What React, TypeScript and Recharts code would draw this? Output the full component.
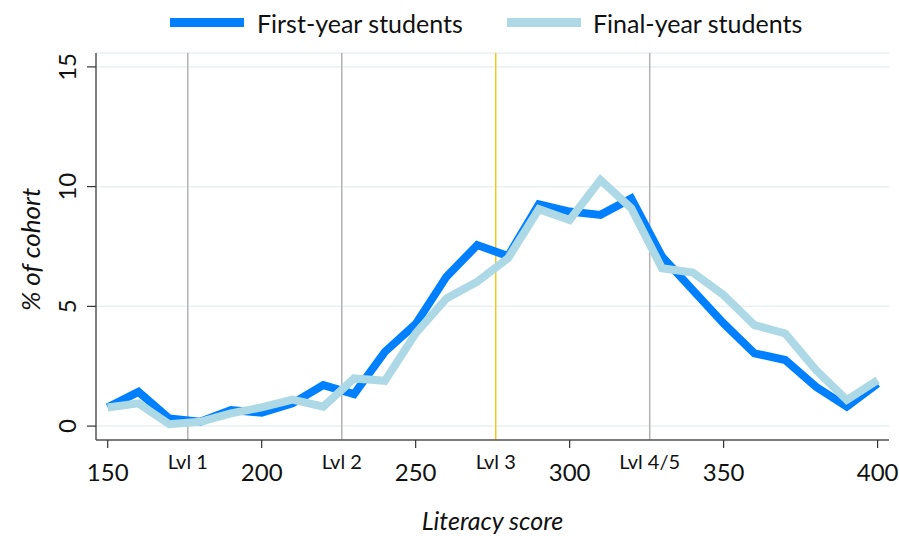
import React from 'react';
import { LineChart, Line, XAxis, YAxis, CartesianGrid, ReferenceLine, Legend } from 'recharts';

const scores = [150, 160, 170, 180, 190, 200, 210, 220, 230, 240, 250, 260, 270, 280, 290, 300, 310, 320, 330, 340, 350, 360, 370, 380, 390, 400];
const firstYear = [0.78, 1.43, 0.32, 0.18, 0.67, 0.56, 0.95, 1.71, 1.34, 3.1, 4.26, 6.24, 7.56, 7.1, 9.26, 8.96, 8.82, 9.51, 7.08, 5.68, 4.29, 3.04, 2.76, 1.64, 0.81, 1.78];
const finalYear = [0.78, 0.95, 0.08, 0.18, 0.53, 0.78, 1.11, 0.81, 1.99, 1.89, 3.87, 5.33, 6.03, 7.01, 9.06, 8.61, 10.28, 9.1, 6.59, 6.41, 5.47, 4.22, 3.87, 2.34, 1.09, 1.92];
const scoreTicks = [150, 200, 250, 300, 350, 400];
const levelPositions = [176, 226, 276, 326];
const levelLabels = ['Lvl 1', 'Lvl 2', 'Lvl 3', 'Lvl 4/5'];
const levelColors = ['#b3b3b3', '#b3b3b3', '#f2c81e', '#b3b3b3'];
const yTicks = [0, 5, 10, 15];

const data = scores.map((s, i) => ({ score: s, first: firstYear[i], final: finalYear[i] }));
const allXTicks = [...scoreTicks, ...levelPositions].sort((a, b) => a - b);

const FONT = 'Lato, sans-serif';

const XTick = (props: any) => {
  const { x, y, payload } = props;
  const li = levelPositions.indexOf(payload.value);
  if (li >= 0) {
    return (
      <text x={x} y={y + 21} textAnchor="middle" dominantBaseline="central" fontSize={20} fontFamily={FONT} fill="#111">
        {levelLabels[li]}
      </text>
    );
  }
  return (
    <g>
      <line x1={x} x2={x} y1={y} y2={y + 8} stroke="#333" strokeWidth={1.2} />
      <text x={x} y={y + 31} textAnchor="middle" dominantBaseline="central" fontSize={24} fontFamily={FONT} fill="#111">
        {payload.value}
      </text>
    </g>
  );
};

const YTick = (props: any) => {
  const { y, payload } = props;
  const cx = 67;
  return (
    <text x={cx} y={y} textAnchor="middle" dominantBaseline="central" fontSize={24} fontFamily={FONT} fill="#111" transform={`rotate(-90, ${cx}, ${y})`}>
      {payload.value}
    </text>
  );
};

const LegendContent = () => (
  <div style={{ height: 53, position: 'relative', fontFamily: FONT, fontSize: 25, color: '#111' }}>
    <div style={{ position: 'absolute', left: 170, top: 18, width: 74, height: 9, background: '#0080ff' }} />
    <div style={{ position: 'absolute', left: 257, top: 8, lineHeight: '30px', whiteSpace: 'nowrap' }}>First-year students</div>
    <div style={{ position: 'absolute', left: 507, top: 18, width: 74, height: 9, background: '#add8e6' }} />
    <div style={{ position: 'absolute', left: 593, top: 8, lineHeight: '30px', whiteSpace: 'nowrap' }}>Final-year students</div>
  </div>
);

export default function App() {
  return (
    <div style={{ position: 'absolute', left: 0, top: 0, width: 899, height: 536, background: '#fff' }}>
      <LineChart width={899} height={536} data={data} margin={{ top: 0, right: 10, bottom: 0, left: 0 }}>
        <Legend verticalAlign="top" align="left" content={LegendContent} wrapperStyle={{ top: 0, left: 0, width: 899, height: 53 }} />
        <CartesianGrid vertical={false} stroke="#e9f1f2" strokeWidth={1.5} />
        <XAxis
          dataKey="score"
          type="number"
          domain={[146.2, 403.7]}
          ticks={allXTicks}
          interval={0}
          tickLine={false}
          tickSize={0}
          tickMargin={0}
          tick={XTick}
          height={96}
          axisLine={{ stroke: '#555', strokeWidth: 1.5 }}
          allowDataOverflow
          label={(p: any) => {
            const vb = p.viewBox;
            return (
              <text x={vb.x + vb.width / 2} y={vb.y + 80} textAnchor="middle" dominantBaseline="central" fontSize={25} fontStyle="italic" fontFamily={FONT} fill="#111">
                Literacy score
              </text>
            );
          }}
        />
        <YAxis
          type="number"
          domain={[-0.58, 15.58]}
          ticks={yTicks}
          interval={0}
          width={96}
          tickSize={9}
          tickLine={{ stroke: '#333', strokeWidth: 1.2 }}
          tick={YTick}
          axisLine={{ stroke: '#555', strokeWidth: 1.5 }}
          allowDataOverflow
          label={(p: any) => {
            const vb = p.viewBox;
            const cy = vb.y + vb.height / 2 + 3;
            return (
              <text x={30} y={cy} textAnchor="middle" dominantBaseline="central" fontSize={26} fontStyle="italic" fontFamily={FONT} fill="#111" transform={`rotate(-90, 30, ${cy})`}>
                % of cohort
              </text>
            );
          }}
        />
        {levelPositions.map((lp, i) => (
          <ReferenceLine key={lp} x={lp} stroke={levelColors[i]} strokeWidth={1.5} />
        ))}
        <Line type="linear" dataKey="first" stroke="#0080ff" strokeWidth={8} dot={false} isAnimationActive={false} />
        <Line type="linear" dataKey="final" stroke="#add8e6" strokeWidth={8} dot={false} isAnimationActive={false} />
      </LineChart>
    </div>
  );
}
